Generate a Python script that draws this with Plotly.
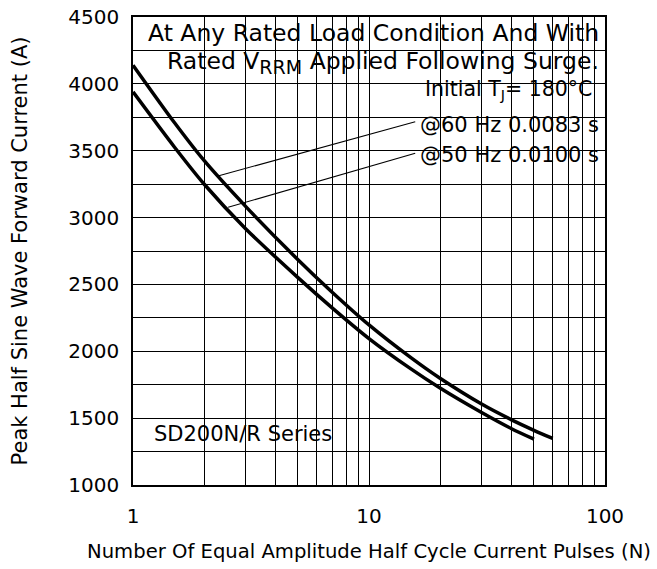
import plotly.graph_objects as go

# ---- data ----
pulses_60hz = [1, 1.5, 2, 3, 5, 7, 10, 15, 20, 30, 40, 50, 60]
current_60hz = [4140, 3709, 3427, 3084, 2685, 2440, 2197, 1954, 1798, 1605, 1489, 1409, 1348]

pulses_50hz = [1, 1.5, 2, 3, 5, 7, 10, 15, 20, 30, 40, 50]
current_50hz = [3940, 3526, 3251, 2917, 2551, 2323, 2095, 1870, 1725, 1542, 1423, 1343]

x_tick_vals = [1, 10, 100]
x_tick_text = ["1", "10", "100"]
x_minor_vals = [2, 3, 4, 5, 6, 7, 8, 9, 20, 30, 40, 50, 60, 70, 80, 90]
y_tick_vals = [1000, 1500, 2000, 2500, 3000, 3500, 4000, 4500]
y_tick_text = ["1000", "1500", "2000", "2500", "3000", "3500", "4000", "4500"]

# leader lines (label end -> curve)
leader_60_x = [15.7, 2.29]
leader_60_y = [3717, 3311]
leader_50_x = [15.7, 2.53]
leader_50_y = [3481, 3077]

FONT = "DejaVu Sans"
INK = "#000000"

fig = go.Figure()

fig.add_trace(go.Scatter(x=pulses_60hz, y=current_60hz, mode="lines",
                         line=dict(color=INK, width=3.5, shape="spline", smoothing=0.8),
                         name="@60 Hz 0.0083 s", showlegend=False, hoverinfo="skip"))
fig.add_trace(go.Scatter(x=pulses_50hz, y=current_50hz, mode="lines",
                         line=dict(color=INK, width=3.5, shape="spline", smoothing=0.8),
                         name="@50 Hz 0.0100 s", showlegend=False, hoverinfo="skip"))

# white boxes behind the texts (hide grid lines)
for (x0, x1, y0, y1) in [(0.032, 1.0, 0.872, 1.0), (0.593, 0.985, 0.677, 0.875), (0.0, 0.44, 0.0726, 0.1389)]:
    fig.add_shape(type="rect", xref="paper", yref="paper", x0=x0, x1=x1, y0=y0, y1=y1,
                  fillcolor="white", line=dict(width=0), layer="between")

fig.add_shape(type="line", xref="x", yref="y", x0=leader_60_x[0], x1=leader_60_x[1],
              y0=leader_60_y[0], y1=leader_60_y[1], line=dict(color=INK, width=1.1), layer="above")
fig.add_shape(type="line", xref="x", yref="y", x0=leader_50_x[0], x1=leader_50_x[1],
              y0=leader_50_y[0], y1=leader_50_y[1], line=dict(color=INK, width=1.1), layer="above")

ann = [
    ("At Any Rated Load Condition And With", 0.989, 0.966, 23.5, "right"),
    ('Rated V<sub><span style="font-size:19px">RRM</span></sub> Applied Following Surge.', 0.989, 0.902, 23.5, "right"),
    ("Initial T<sub>J</sub>= 180°C", 0.975, 0.845, 20.5, "right"),
    ("@60 Hz 0.0083 s", 0.989, 0.770, 21, "right"),
    ("@50 Hz 0.0100 s", 0.989, 0.706, 21, "right"),
    ("SD200N/R Series", 0.042, 0.108, 21, "left"),
]
for text, x, y, size, anchor in ann:
    fig.add_annotation(text=text, xref="paper", yref="paper", x=x, y=y,
                       xanchor=anchor, yanchor="middle", showarrow=False,
                       font=dict(family=FONT, size=size, color=INK), borderpad=0)

fig.update_layout(
    width=657, height=569,
    margin=dict(l=133, r=52, t=17, b=84),
    paper_bgcolor="white", plot_bgcolor="white",
    font=dict(family=FONT, size=20, color=INK),
    showlegend=False,
    hovermode=False,
)

fig.update_xaxes(
    type="log", range=[0, 2], automargin=False,
    tickmode="array", tickvals=x_tick_vals, ticktext=x_tick_text,
    ticks="", ticklabelstandoff=12,
    showgrid=True, gridcolor=INK, gridwidth=1.2,
    minor=dict(tickmode="array", tickvals=x_minor_vals, showgrid=True, gridcolor=INK, gridwidth=1.2),
    showline=True, linecolor=INK, linewidth=1.5, mirror=True,
    tickfont=dict(family=FONT, size=20, color=INK),
    title=dict(text="Number Of Equal Amplitude Half Cycle Current Pulses (N)",
               font=dict(family=FONT, size=19.6, color=INK), standoff=18),
    zeroline=False,
)
fig.update_yaxes(
    range=[1000, 4500], automargin=False,
    tickmode="array", tickvals=y_tick_vals, ticktext=y_tick_text,
    ticks="", ticklabelstandoff=8,
    showgrid=True, gridcolor=INK, gridwidth=1.2,
    minor=dict(dtick=250, tick0=1000, showgrid=True, gridcolor=INK, gridwidth=1.2),
    showline=True, linecolor=INK, linewidth=1.5, mirror=True,
    tickfont=dict(family=FONT, size=20, color=INK),
    title=dict(text="Peak Half Sine Wave Forward Current (A)",
               font=dict(family=FONT, size=21, color=INK), standoff=35),
    zeroline=False,
)

fig.write_html("out.html", config={"displayModeBar": False},
               post_script="document.body.style.margin='0';")
